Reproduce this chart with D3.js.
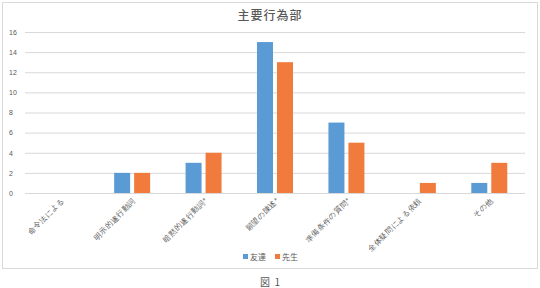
<!DOCTYPE html>
<html><head><meta charset="utf-8">
<script src="https://cdn.jsdelivr.net/npm/d3@7"></script>
<style>
html,body{margin:0;padding:0;background:#fff;}
svg{display:block;font-family:"Noto Sans CJK JP","Noto Sans",sans-serif;}
</style></head>
<body>
<svg id="chart" width="540" height="288"></svg>
<script>
const categories = ["命令法による","明示的遂行動詞","暗黙的遂行動詞*","願望の陳述*","準備条件の質問*","全体疑問による依頼","その他"];
const seriesNames = ["友達","先生"];
const friendValues = [0,2,3,15,7,0,1];
const teacherValues = [0,2,4,13,5,1,3];
const yTicks = [0,2,4,6,8,10,12,14,16];
const colors = ["#5B9BD5","#F07B3C"];

(function(){
const svg = d3.select("#chart");
svg.append("rect").attr("x",2.5).attr("y",2.5).attr("width",535).attr("height",266)
  .attr("fill","#fff").attr("stroke","#d9d9d9").attr("stroke-width",1);

const mLeft = 25, mRight = 525, mTop = 32, mBottom = 193;
const x = d3.scaleBand().domain(categories).range([mLeft,mRight]).paddingInner(0).paddingOuter(0);
const y = d3.scaleLinear().domain([0,16]).range([mBottom,mTop]);
const barW = 16, gap = 4;
const xs = d3.scaleBand().domain(seriesNames).range([0, barW*2+gap]).paddingInner(gap/(barW+gap)).paddingOuter(0);

svg.append("text").attr("x",270).attr("y",20).attr("text-anchor","middle")
  .attr("font-size",12).attr("font-weight","500").attr("letter-spacing",1).attr("fill","#595959").text("主要行為部");

const yAxis = d3.axisLeft(y).tickValues(yTicks).tickSize(-(mRight-mLeft)).tickPadding(8);
const gy = svg.append("g").attr("transform",`translate(${mLeft},0)`).call(yAxis);
gy.select(".domain").remove();
gy.selectAll(".tick line").attr("stroke","#d9d9d9").attr("stroke-width",1);
gy.selectAll(".tick text").attr("fill","#595959").attr("font-size",7).attr("font-family","Liberation Sans, Arial, sans-serif")
  .attr("text-anchor","start").attr("x",-16);

const data = categories.map((c,i)=>({cat:c, vals:[friendValues[i],teacherValues[i]]}));
const groupOffset = (x.bandwidth() - (barW*2+gap))/2;
const groups = svg.append("g").selectAll("g").data(data).join("g")
  .attr("transform",d=>`translate(${x(d.cat)+groupOffset},0)`);
groups.selectAll("rect").data(d=>d.vals.map((v,j)=>({name:seriesNames[j],v,j}))).join("rect")
  .attr("x",d=>xs(d.name)).attr("width",xs.bandwidth())
  .attr("y",d=>y(d.v)).attr("height",d=>y(0)-y(d.v))
  .attr("fill",d=>colors[d.j]);

const xAxis = d3.axisBottom(x).tickSize(0).tickPadding(0);
const gx = svg.append("g").attr("transform",`translate(0,${mBottom})`).call(xAxis);
gx.select(".domain").remove();
gx.selectAll(".tick text").attr("fill","#595959").attr("font-size",7.5).attr("font-weight","500")
  .attr("text-anchor","end").attr("dy",0).attr("y",0)
  .attr("transform","translate(4,8) rotate(-45)");

const legend = svg.append("g").attr("transform","translate(243,258)");
const li = legend.selectAll("g").data(seriesNames).join("g").attr("transform",(d,i)=>`translate(${i*32},0)`);
li.append("rect").attr("x",0).attr("y",-4).attr("width",5).attr("height",5).attr("fill",(d,i)=>colors[i]);
li.append("text").attr("x",7).attr("y",1.5).attr("font-size",8).attr("fill","#595959").text(d=>d);

svg.append("text").attr("x",270).attr("y",286).attr("text-anchor","middle").attr("font-size",10).attr("fill","#555").attr("xml:space","preserve").text("図  1");
})();
</script>
</body></html>
